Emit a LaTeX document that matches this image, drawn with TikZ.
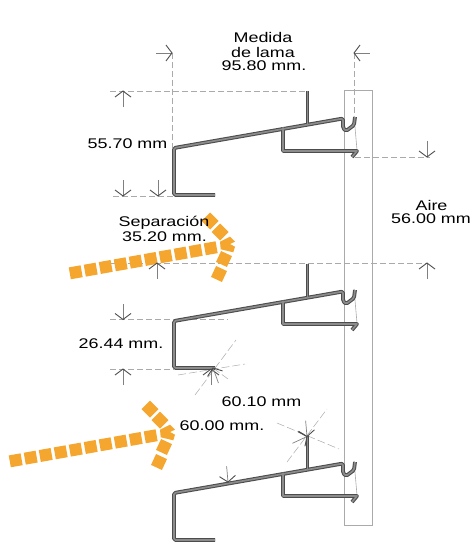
\documentclass[tikz,border=0pt]{standalone}
\usepackage{fontspec}
\setmainfont[FakeStretch=1.28]{Liberation Sans}
\usetikzlibrary{calc}
\definecolor{orangeflow}{HTML}{F5A62F}
\definecolor{dimgray}{HTML}{AAAAAA}
\tikzset{
  dimline/.style={draw=dimgray,line width=0.8pt,dash pattern=on 6pt off 3pt},
  angline/.style={draw=dimgray,line width=0.5pt,dash pattern=on 8pt off 3pt},
  airbox/.style={draw=dimgray,line width=0.9pt},
  guide/.style={draw=dimgray,line width=0.6pt},
  stemline/.style={draw=gray,line width=0.7pt},
  wingline/.style={draw=black!70,line width=0.9pt},
  slatout/.style={draw=black!70,line width=3.8pt,line join=round,rounded corners=1.5pt},
  slatin/.style={draw=black!45,line width=1.7pt,line join=round,rounded corners=1.5pt},
  lbl/.style={font=\fontsize{14pt}{16pt}\selectfont,text=black,inner sep=0pt,align=center}
}
\newcommand{\dimarrow}[2]{%
  \coordinate (t) at (#1);
  \draw[stemline] (t) -- ++(#2:16);
  \draw[wingline] ($(t)+(#2+53:10)$) -- (t) -- ($(t)+(#2-53:10)$);
}
\newcommand{\slatprofile}[1]{%
  \begin{scope}[shift={(0,#1)}]
    \draw[guide] (354,116) -- (357,150);
    \foreach \st in {slatout,slatin}{
      \draw[\st] (215,195) -- (174,195) -- (174,148) -- (343,118.5) -- (343,128) -- (346,131) -- (354,125) -- (355,117);
      \draw[\st,rounded corners=0pt] (307.5,91) -- (307.5,124);
      \draw[\st,rounded corners=0pt] (283,127.5) -- (283,151) -- (357,151) -- (352,157);
    }
  \end{scope}
}
\newcommand{\orsq}[3]{%
  \coordinate (q) at (#1,#2);
  \fill[orangeflow] ($(q)+(#3+45:8.5)$) -- ($(q)+(#3+135:8.5)$) -- ($(q)+(#3+225:8.5)$) -- ($(q)+(#3+315:8.5)$) -- cycle;
}
\newcommand{\flowarrow}[2]{%
  \begin{scope}[shift={(#1,#2)}]
    \foreach \i in {0,...,9}{
      \pgfmathsetmacro{\qx}{75.7+15*\i}
      \pgfmathsetmacro{\qy}{272.3-2.67*\i}
      \orsq{\qx}{\qy}{-10}
    }
    \orsq{210}{221}{45}
    \orsq{220}{232}{45}
    \fill[orangeflow] (220,241.7) -- (230,236.7) -- (235,241.7) -- (230,244) -- (235,246.7) -- (233.3,252.3) -- (220.7,249.3) -- cycle;
    \orsq{224}{259}{25}
    \orsq{219}{274}{25}
  \end{scope}
}
\begin{document}
\begin{tikzpicture}[x=1pt,y=-1pt]
\useasboundingbox (0,0) rectangle (472,545);
% air gap box
\draw[airbox] (344.5,90) rectangle (372.5,525.5);
% dimension guide lines
\coordinate (a1) at (172,53); \coordinate (a2) at (172,148);
\coordinate (b1) at (354,53); \coordinate (b2) at (354,116);
\draw[dimline] (a1) -- (a2);
\draw[dimline] (b1) -- (b2);
\coordinate (c1) at (110,91); \coordinate (c2) at (307,91);
\draw[dimline] (c1) -- (c2);
\coordinate (d1) at (113,196); \coordinate (d2) at (174,196);
\draw[dimline] (d1) -- (d2);
\coordinate (e1) at (355,157); \coordinate (e2) at (430,157);
\draw[dimline] (e1) -- (e2);
\coordinate (f1) at (110,263); \coordinate (f2) at (428,263);
\draw[dimline] (f1) -- (f2);
\coordinate (g1) at (110,319.5); \coordinate (g2) at (228,319.5);
\draw[dimline] (g1) -- (g2);
\coordinate (h1) at (110,369); \coordinate (h2) at (174,369);
\draw[dimline] (h1) -- (h2);
% angle guides
\draw[angline] (195,395) -- (236,340);
\draw[angline] (178,375) -- (245,364);
\draw[angline] (213,368) -- (228,379);
\draw[angline] (287,462) -- (327,409);
\draw[angline] (277,423) -- (339,449);
% orange flows
\flowarrow{0}{0}
\flowarrow{-60}{188}
% slats
\slatprofile{0}
\slatprofile{173}
\slatprofile{345}
% arrows
\dimarrow{172,53}{180}
\dimarrow{354,53}{0}
\dimarrow{123,91}{90}
\dimarrow{123,196}{-90}
\dimarrow{158,196}{-90}
\dimarrow{427,157}{-90}
\dimarrow{157,263}{90}
\dimarrow{427,263}{90}
\dimarrow{123,319.5}{-90}
\dimarrow{123,369}{90}
\dimarrow{211,369}{90}
\dimarrow{213,368}{70}
\dimarrow{307,436.5}{-95}
\dimarrow{307,436.5}{155}
\dimarrow{228,482}{-95}
% labels
\node[lbl] (medida) at (263,37) {Medida};
\node[lbl] (delama) at (263,52) {de lama};
\node[lbl] (medval) at (264,66) {95.80 mm.};
\node[lbl] (alto) at (127.5,144) {55.70 mm};
\node[lbl] (aire) at (431.5,205) {Aire};
\node[lbl] (aireval) at (431,218.5) {56.00 mm};
\node[lbl] (sep) at (164,223) {Separación};
\node[lbl] (sepval) at (164.5,237) {35.20 mm.};
\node[lbl] (labio) at (121,344) {26.44 mm.};
\node[lbl] (ang1) at (261.5,402) {60.10 mm};
\node[lbl] (ang2) at (222,426) {60.00 mm.};
\end{tikzpicture}
\end{document}
